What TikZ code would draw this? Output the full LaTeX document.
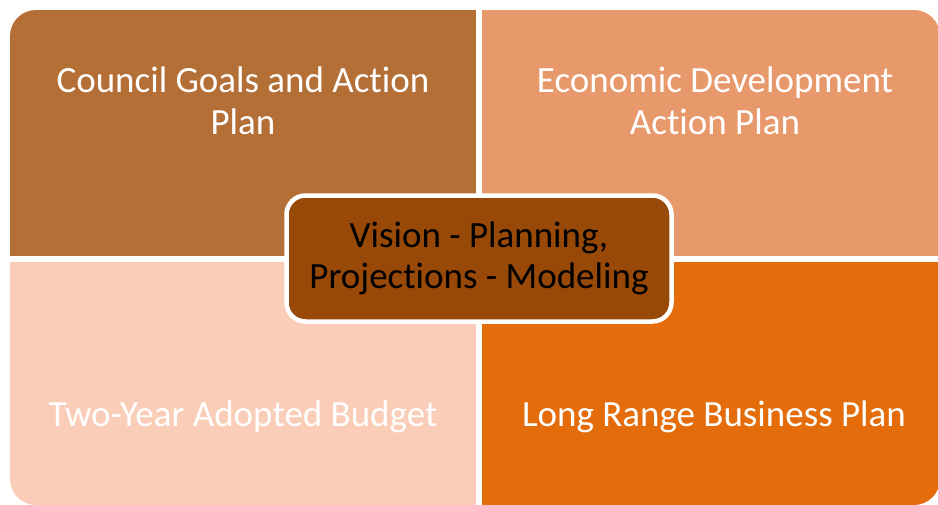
\documentclass[tikz,border=0pt]{standalone}
\usepackage{fontspec}
\setmainfont{Carlito}[Ligatures=NoCommon]
\definecolor{goalsfill}{HTML}{B46F37}
\definecolor{econfill}{HTML}{E8996B}
\definecolor{budgetfill}{HTML}{FACDB9}
\definecolor{rangefill}{HTML}{E46C0A}
\definecolor{hubfill}{HTML}{984807}
\begin{document}
\begin{tikzpicture}[
  x=1pt, y=-1pt,
  quadtext/.style={text=white, align=center, font=\fontsize{37}{42}\selectfont},
  hubbox/.style={draw=white, line width=4.5pt, fill=hubfill, rounded corners=19pt,
    minimum width=385pt, minimum height=126pt, align=center, text=black,
    font=\fontsize{37}{41}\selectfont}
]
\useasboundingbox (0,0) rectangle (938,504);

% quadrants inside one rounded outline
\begin{scope}
  \clip[rounded corners=26pt] (10,10) rectangle (940,505);
  \fill[goalsfill] (10,10) rectangle (476,256);
  \fill[econfill] (482,10) rectangle (940,256);
  \fill[budgetfill] (10,262) rectangle (476,505);
  \fill[rangefill] (482,262) rectangle (940,505);
\end{scope}

\node[quadtext] (goals) at (243,101) {Council Goals and Action\\Plan};
\node[quadtext] (econ) at (715,101) {Economic Development\\Action Plan};
\node[quadtext] (budget) at (243,417) {Two-Year Adopted Budget};
\node[quadtext] (range) at (714,417) {Long Range Business Plan};

\node[hubbox] (vision) at (479,258.5) {Vision - Planning,\\Projections - Modeling};

\end{tikzpicture}
\end{document}
